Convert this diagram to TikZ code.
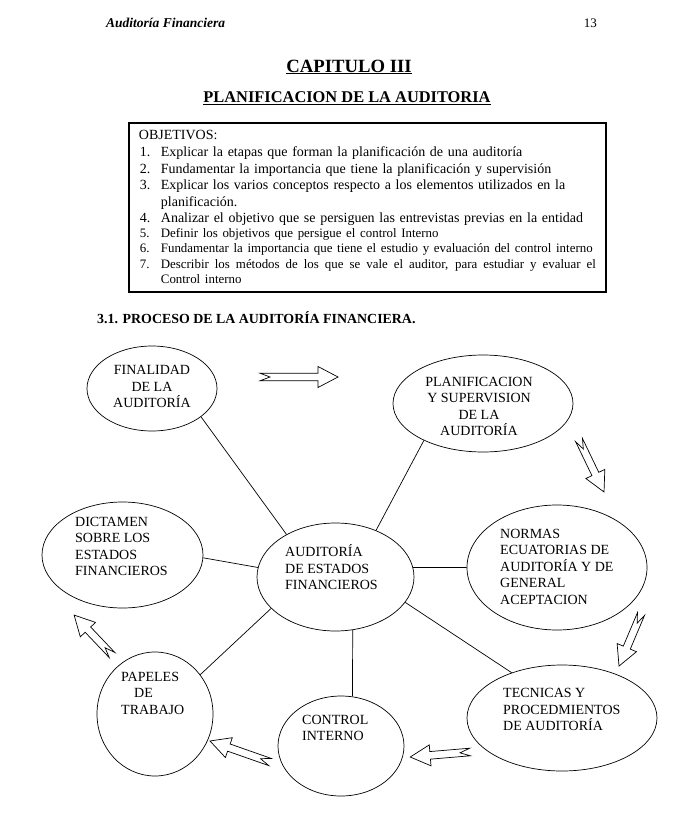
\documentclass[tikz,border=0pt]{standalone}
\usepackage{fontspec}
\setmainfont{Liberation Serif}
\usetikzlibrary{shapes.geometric}

\newcommand\objitem[2]{\par\noindent\hangindent=22pt\hangafter=1\makebox[22pt][l]{\hspace{1pt}#1}#2}

\begin{document}
\begin{tikzpicture}[
    x=1pt, y=-1pt,
    ttl/.style={inner sep=0pt},
    objbox/.style={draw, line width=1.8pt, anchor=north west, text width=457pt, inner xsep=10pt, inner ysep=0pt, minimum width=477pt, minimum height=169pt, font=\fontsize{14}{16.5}\selectfont},
    oval/.style={draw, ellipse, line width=0.7pt, inner sep=0pt},
    lbl/.style={font=\fontsize{14}{16.5}\selectfont, align=left, inner sep=0pt},
    link/.style={line width=0.7pt},
    pics/hollow/.style={code={
      \draw[line width=0.7pt, fill=white] (0,3.8) -- ({#1-20},3.8) -- ({#1-20},10.5) -- (#1,0)
        -- ({#1-20},-10.5) -- ({#1-20},-3.8) -- (0,-3.8) -- (10,0) -- cycle;
    }},
  ]
  \useasboundingbox (0,0) rectangle (696,823);
  % ---- page head and titles
  \node[ttl, anchor=base west, font=\fontsize{13.5}{16}\selectfont\bfseries\itshape] (head) at (106,27) {Auditoría Financiera};
  \node[ttl, anchor=base east, font=\fontsize{13}{16}\selectfont] (page) at (597,27) {13};
  \node[ttl, anchor=base, font=\fontsize{18.7}{22}\selectfont\bfseries] (chap) at (349,72) {\underline{CAPITULO III}};
  \node[ttl, anchor=base, font=\fontsize{16.4}{20}\selectfont\bfseries] (plan-h) at (347,102.5) {\underline{PLANIFICACION DE LA AUDITORIA}};
  % ---- objectives box
  \node[objbox] (obj) at (128,122) {%
    \noindent OBJETIVOS:\par\vspace{0.5pt}
    \rightskip=-8pt plus 1fil
    \objitem{1.}{Explicar la etapas que forman la planificación de una auditoría}
    \objitem{2.}{Fundamentar la importancia que tiene la planificación y supervisión}
    \objitem{3.}{Explicar los varios conceptos respecto a los elementos utilizados en la\linebreak planificación.}
    \objitem{4.}{Analizar el objetivo que se persiguen las entrevistas previas en la entidad}\par
    \fontsize{12.9}{15.5}\selectfont\vspace{-1pt}
    \objitem{5.}{Definir los objetivos que persigue el control Interno}
    \objitem{6.}{Fundamentar la importancia que tiene el estudio y evaluación del control interno}
    \objitem{7.}{{\spaceskip=3.2pt plus 20pt\hbox to 435pt{Describir los métodos de los que se vale el auditor, para estudiar y evaluar el}}\linebreak Control interno}\par
  };
  \node[ttl, anchor=base west, font=\fontsize{13.9}{16}\selectfont\bfseries] (sec) at (97,323) {3.1. PROCESO DE LA AUDITORÍA FINANCIERA.};
  % ---- ovals
  \node[oval, minimum width=130pt, minimum height=85pt] (fin) at (152,388.5) {};
  \node[oval, minimum width=180pt, minimum height=97pt] (plan) at (483,403.5) {};
  \node[oval, minimum width=161pt, minimum height=106pt] (dict) at (122.5,555) {};
  \node[oval, minimum width=157pt, minimum height=108pt] (cen) at (335.5,577) {};
  \node[oval, minimum width=180pt, minimum height=125pt] (norm) at (557,567.5) {};
  \node[oval, minimum width=190pt, minimum height=106pt] (tec) at (562,718) {};
  \node[oval, minimum width=126pt, minimum height=100pt] (ctrl) at (341,746) {};
  \node[oval, minimum width=116pt, minimum height=124pt] (pap) at (155,714) {};
  % ---- texts
  \node[lbl, align=center] (fin-t) at (152,386.5) {FINALIDAD\\DE LA\\AUDITORÍA};
  \node[lbl, align=center] (plan-t) at (479,406.5) {PLANIFICACION\\Y SUPERVISION\\DE LA\\AUDITORÍA};
  \node[lbl, anchor=west] (dict-t) at (75,546.5) {DICTAMEN\\SOBRE LOS\\ESTADOS\\FINANCIEROS};
  \node[lbl, anchor=west] (cen-t) at (285,567.5) {AUDITORÍA\\DE ESTADOS\\FINANCIEROS};
  \node[lbl, anchor=west] (norm-t) at (500,566.5) {NORMAS\\ECUATORIAS DE\\AUDITORÍA Y DE\\GENERAL\\ACEPTACION};
  \node[lbl, anchor=west] (tec-t) at (503,709.5) {TECNICAS Y\\PROCEDMIENTOS\\DE AUDITORÍA};
  \node[lbl, anchor=west] (ctrl-t) at (302,728) {CONTROL\\INTERNO};
  \node[lbl, anchor=west] (pap-t) at (121,693) {PAPELES\\\hspace{13pt}DE\\TRABAJO};
  % ---- links to the centre
  \draw[link] (fin.-30.7) -- (cen.139.1);
  \draw[link] (plan.212.7) -- (cen.49.6);
  \draw[link] (dict.-2) -- (cen.173.5);
  \draw[link] (cen.7) -- (norm.west);
  \draw[link] (cen.-72.6) -- (ctrl.77.4);
  \draw[link] (cen.206.8) -- (pap.41.2);
  \draw[link] (cen.-20.5) -- (tec.138.6);
  % ---- hollow arrows round the cycle
  \pic at (260,377) {hollow=78};
  \pic[rotate=-64.3] at (579,440) {hollow=57.7};
  \pic[rotate=-112.9] at (641,614) {hollow=56.5};
  \pic[rotate=-175.2] at (470,752) {hollow=60};
  \pic[rotate=160.7] at (270,762) {hollow=63.6};
  \pic[rotate=133.5] at (112,655) {hollow=55};
\end{tikzpicture}
\end{document}
